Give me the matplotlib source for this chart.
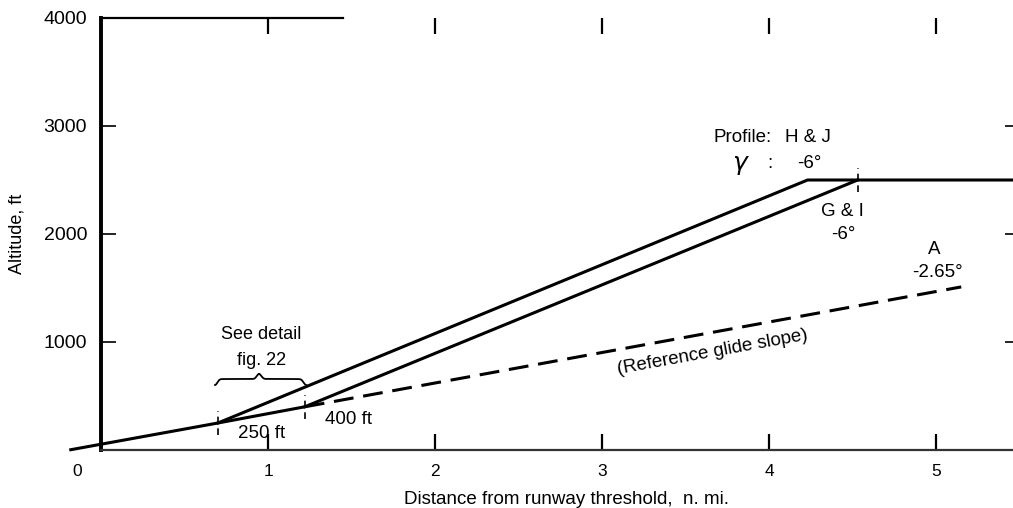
import matplotlib
matplotlib.use("Agg")
import matplotlib.pyplot as plt
from matplotlib.transforms import ScaledTranslation
import numpy as np

plt.rcParams['font.family'] = ['Liberation Sans', 'DejaVu Sans']

# --- data (n. mi., ft) ---
glide_x = [-0.19, 0.70, 1.22]
glide_y = [0, 250, 400]
ref_x = [1.22, 5.15]
ref_y = [400, 1510]
hj_x = [0.70, 4.23, 5.46]
hj_y = [250, 2500, 2500]
gi_x = [1.22, 4.53]
gi_y = [400, 2500]
x_ticks = [0, 1, 2, 3, 4, 5]
x_ticklabels = ['0', '1', '2', '3', '4', '5']
y_ticks = [1000, 2000, 3000, 4000]
y_ticklabels = ['1000', '2000', '3000', '4000']

W, H = 1013, 508
fig = plt.figure(figsize=(W / 100, H / 100), dpi=100)
ax = fig.add_axes([101 / W, (H - 450) / H, 912 / W, 432 / H])
ax.set_xlim(0, 5.46)
ax.set_ylim(0, 4000)

lw = 2.2
ax.plot(glide_x, glide_y, color='black', lw=lw, clip_on=False, solid_capstyle='butt')
ax.plot(ref_x, ref_y, color='black', lw=lw, dashes=(6.5, 3.2))
ax.plot(hj_x, hj_y, color='black', lw=lw, solid_joinstyle='miter')
ax.plot(gi_x, gi_y, color='black', lw=lw)

# short dashed markers at transition points
for (px, py) in [(glide_x[1], glide_y[1]), (gi_x[0], gi_y[0]), (gi_x[1], gi_y[1])]:
    ax.plot([px, px], [py - 110, py + 110], color='black', lw=1.2,
            dashes=(4, 3), zorder=1)

# spines
ax.spines['right'].set_visible(False)
ax.spines['left'].set_linewidth(2.8)
ax.spines['top'].set_linewidth(1.6)
ax.spines['top'].set_bounds(0, 1.45)
ax.spines['bottom'].set_linewidth(1.6)
ax.spines['bottom'].set_color('#333333')

ax.set_xticks(x_ticks)
ax.set_xticklabels(x_ticklabels)
ax.set_yticks(y_ticks)
ax.set_yticklabels(y_ticklabels)
ax.tick_params(axis='x', direction='in', top=True, bottom=True, length=11.5,
               width=1.6, labelsize=12.5, pad=10, colors='black')
ax.tick_params(axis='y', direction='in', left=True, right=True, length=11,
               width=1.2, labelsize=14, pad=10)
for t in ax.yaxis.get_major_ticks():
    t.tick2line.set_markersize(6)
ax.yaxis.get_major_ticks()[-1].tick1line.set_visible(False)
ax.yaxis.get_major_ticks()[-1].tick2line.set_visible(False)
ax.xaxis.get_major_ticks()[0].tick1line.set_visible(False)
ax.xaxis.get_major_ticks()[0].tick2line.set_visible(False)
# shift the "0" label slightly left as in the original
lab0 = ax.xaxis.get_major_ticks()[0].label1
lab0.set_transform(lab0.get_transform() + ScaledTranslation(-0.24, 0, fig.dpi_scale_trans))

ax.set_xlabel('Distance from runway threshold,  n. mi.', fontsize=13.5)
ax.xaxis.label.set_va('center')
ax.xaxis.set_label_coords(0.51, -0.1157)
ax.set_ylabel('Altitude, ft', fontsize=13)
ax.yaxis.label.set_va('center')
ax.yaxis.set_label_coords(-0.092, 0.5)

# annotations
fs = 13.5
ax.text(3.665, 2898, 'Profile:', fontsize=fs, ha='left', va='center')
ax.text(4.096, 2898, 'H & J', fontsize=fs, ha='left', va='center')
ax.text(3.78, 2640, r'$\gamma$', fontsize=18, ha='left', va='center')
ax.text(3.99, 2657, ':', fontsize=fs, ha='left', va='center')
ax.text(4.17, 2657, '-6°', fontsize=fs, ha='left', va='center')
ax.text(4.44, 2204, 'G & I', fontsize=fs, ha='center', va='center')
ax.text(4.445, 1991, '-6°', fontsize=fs, ha='center', va='center')
ax.text(4.99, 1852, 'A', fontsize=fs, ha='center', va='center')
ax.text(5.01, 1648, '-2.65°', fontsize=fs, ha='center', va='center')
ax.text(0.96, 157, '250 ft', fontsize=fs, ha='center', va='center')
ax.text(1.48, 278, '400 ft', fontsize=fs, ha='center', va='center')
ax.text(0.96, 1074, 'See detail', fontsize=13, ha='center', va='center')
ax.text(0.96, 833, 'fig. 22', fontsize=13, ha='center', va='center')
ax.text(3.66, 907, '(Reference glide slope)', fontsize=13.5, ha='center', va='center',
        rotation=10.3, rotation_mode='anchor')

# curly brace over detail region
bx0, bx1, bmid = 0.683, 1.228, 0.946
t = np.linspace(0, 1, 300)
def half_brace(xa, xb):
    xs = xa + (xb - xa) * t
    ys = 657 - 55 * np.exp(-(t / 0.07) ** 2) + 47 * np.exp(-((t - 1) / 0.07) ** 2)
    return xs, ys
for xa in (bx0, bx1):
    xs, ys = half_brace(xa, bmid)
    ax.plot(xs, ys, color='black', lw=1.3)

fig.savefig('out.png', dpi=100)
